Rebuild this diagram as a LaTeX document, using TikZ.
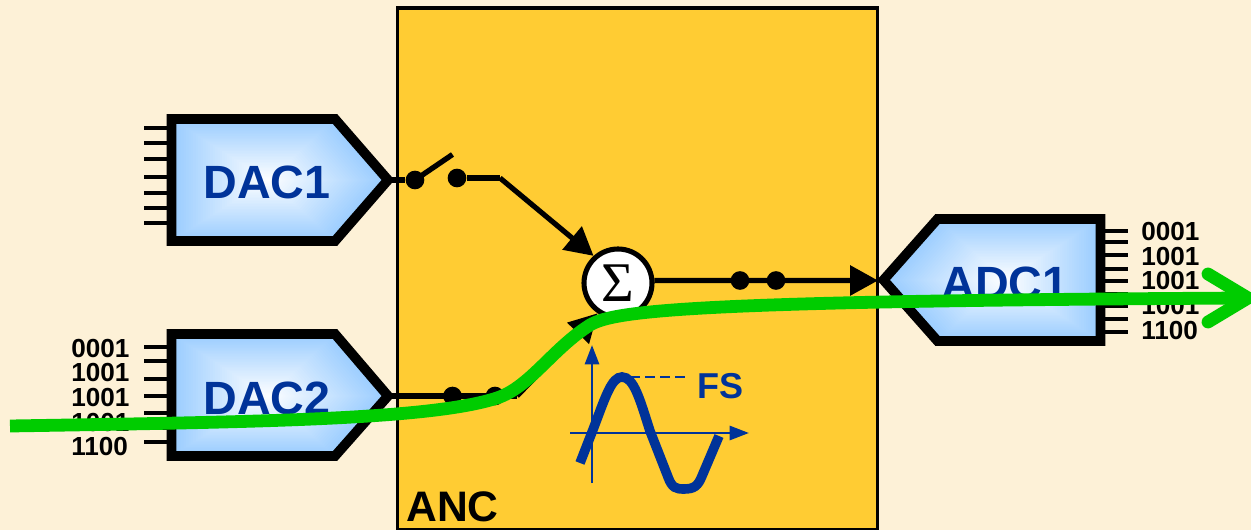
\documentclass[tikz,border=0pt]{standalone}
\usepackage{fontspec}
\setmainfont{Liberation Sans}
\newfontfamily\sigfont{Liberation Serif}
\usetikzlibrary{arrows.meta}
\definecolor{bgc}{HTML}{FDF1D7}
\definecolor{boxc}{HTML}{FFCC33}
\definecolor{edgeb}{HTML}{99CCFF}
\definecolor{navy}{HTML}{003399}
\definecolor{greenc}{HTML}{00CC00}
\tikzset{
  gate/.style={draw=black,line width=7.3pt,miter limit=10},
  gatename/.style={font=\fontsize{35}{36}\selectfont\bfseries,text=navy,inner sep=0pt},
  bits/.style={font=\fontsize{19.6}{20}\selectfont\bfseries,text=black,inner sep=0pt,anchor=west},
  pin/.style={line width=3.5pt,black},
  wire/.style={line width=3.9pt,black},
  dot/.style={circle,fill=black,inner sep=0pt,minimum size=14pt},
  bigarrow/.style={-{Triangle[length=21pt,width=22pt]}},
  sumnode/.style={circle,draw=black,fill=white,line width=3.8pt,minimum size=51pt,inner sep=0pt,font=\sigfont\fontsize{42}{44}\selectfont},
  greenline/.style={line width=9.6pt,greenc},
  axis/.style={line width=2.1pt,navy,-{Triangle[length=14.5pt,width=10.5pt]}},
}
\newcommand{\gradfill}[2]{%
  \foreach \i in {40,39,...,1}{%
    \pgfmathsetmacro\m{100*\i/40}%
    \begin{scope}[shift={#1},scale=\i/40]
      \fill[edgeb!\m!white] #2;
    \end{scope}}}
\begin{document}
\begin{tikzpicture}[x=0.75pt,y=-0.75pt]
\useasboundingbox (0,0) rectangle (1251,530);
\fill[bgc] (0,0) rectangle (1251,530);
% ANC block
\draw[fill=boxc,draw=black,line width=2.4pt] (397.5,8) rectangle (877.5,529.5);
\node[font=\fontsize{32}{33}\selectfont\bfseries,inner sep=0pt,anchor=base west] (anc) at (406,521.5) {ANC};
% pins
\foreach \y in {128,143,159,177,193,208,223}{\draw[pin] (144,\y) -- (170,\y);}
\foreach \y in {347,361,379,396,413,428,442}{\draw[pin] (144,\y) -- (170,\y);}
\foreach \y in {231,242,255,269,281,294,306,319,332}{\draw[pin] (1102,\y) -- (1128,\y);}
% gates
\gradfill{(268,180)}{(-96.5,-61) -- (67,-61) -- (120,0) -- (67,61) -- (-96.5,61) -- cycle}
\draw[gate] (171.5,119) -- (335,119) -- (388,180) -- (335,241) -- (171.5,241) -- cycle;
\gradfill{(268,396)}{(-96.5,-62) -- (67,-62) -- (120,0) -- (67,60) -- (-96.5,60) -- cycle}
\draw[gate] (171.5,334) -- (335,334) -- (388,396) -- (335,456) -- (171.5,456) -- cycle;
\gradfill{(1005,280)}{(95.5,-61) -- (-67.5,-61) -- (-121.5,0) -- (-67.5,61) -- (95.5,61) -- cycle}
\draw[gate] (1100.5,219) -- (937.5,219) -- (883.5,280) -- (937.5,341) -- (1100.5,341) -- cycle;
\node[gatename] (dac1) at (267,182.5) {DAC1};
\node[gatename] (dac2) at (267,398) {DAC2};
\node[gatename] (adc1) at (1005,283) {ADC1};
% bit labels
\node[bits] (a1) at (71,348.5) {0001};
\node[bits] (a2) at (71,372.5) {1001};
\node[bits] (a3) at (71,397.5) {1001};
\node[bits] (a4) at (71,422.5) {1001};
\node[bits] (a5) at (71,446.5) {1100};
\node[bits] (b1) at (1141,231.5) {0001};
\node[bits] (b2) at (1141,256.5) {1001};
\node[bits] (b3) at (1141,280.5) {1001};
\node[bits] (b4) at (1141,305.5) {1001};
\node[bits] (b5) at (1141,330.5) {1100};
% coordinates
\coordinate (tip1) at (392,180);
\coordinate (tip2) at (392,396);
\coordinate (tipadc) at (878,280.5);
\coordinate (bend1) at (500,178);
\coordinate (bend2) at (517,396);
\coordinate (levr) at (452.5,154.5);
% summing junction
\node[sumnode] (sum) at (618,283) {Σ};
% dots
\node[dot] (s1) at (415,180) {};
\node[dot] (s2) at (457,178) {};
\node[dot] (d1) at (452.5,396) {};
\node[dot] (d2) at (495,396) {};
\node[dot] (o1) at (740,280.5) {};
\node[dot] (o2) at (776,280.5) {};
% wires
\draw[wire] (tip1) -- (s1);
\draw[wire,line width=4pt] (s1.center) -- (levr);
\draw[wire] (s2) -- (bend1);
\draw[wire,bigarrow] (bend1) -- (sum.132);
\draw[wire] (tip2) -- (bend2);
\draw[wire,bigarrow] (bend2) -- (sum.236);
\draw[wire,bigarrow] (sum.4) -- (tipadc);
% waveform
\draw[axis] (592,483) -- (592,345);
\draw[axis] (570,433) -- (749,433);
\draw[navy,line width=1.5pt,dash pattern=on 7.5pt off 3.8pt] (630,377) -- (689,377);
\node[font=\fontsize{27}{28}\selectfont\bfseries,text=navy,inner sep=0pt,anchor=base west] (fs) at (697,398) {FS};
\draw[navy,line width=7.2pt] (580,463) -- (594,427) .. controls (606,395) and (612,377) .. (622,377) .. controls (634,377) and (640,400) .. (650,431) -- (668,477) .. controls (672,488) and (676,489) .. (684,489) .. controls (694,489) and (698,486) .. (702,476) -- (719,436);
% green signal
\coordinate (gs) at (10,426);
\coordinate (ge) at (1248,298);
\coordinate (ga) at (1208,274);
\coordinate (gb) at (1208,322);
\draw[greenline] (gs) .. controls (250,422) and (430,420) .. (497,398) .. controls (530,387) and (552,349) .. (590,325) .. controls (615,310) and (700,301) .. (ge);
\draw[greenline,line cap=round,line join=round] (ga) -- (ge) -- (gb);
\end{tikzpicture}
\end{document}
